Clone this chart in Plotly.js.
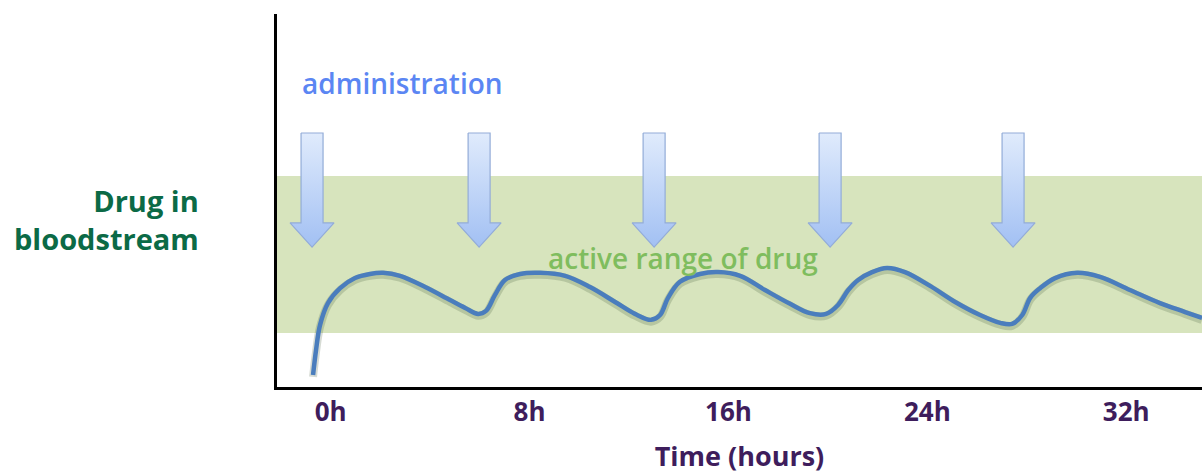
<!DOCTYPE html>
<html>
<head>
<meta charset="utf-8">
<script src="https://cdn.plot.ly/plotly-3.0.1.min.js"></script>
<style>html,body{margin:0;padding:0;background:#fff;}#chart{width:1202px;height:474px;}</style>
</head>
<body>
<div id="chart"></div>
<script>
// ---- data (hours vs. relative drug level) ----
const timeHours = [-0.71,-0.59,-0.43,-0.11,0.38,0.98,1.58,2.11,2.79,3.80,4.80,5.41,5.93,6.25,6.61,7.01,7.62,8.42,9.43,10.43,11.44,12.24,12.89,13.25,13.57,14.05,14.86,15.58,16.47,17.47,18.48,19.28,19.93,20.41,20.82,21.22,21.78,22.38,23.10,24.11,25.12,26.12,26.93,27.41,27.82,28.14,28.54,29.14,30.03,30.95,32.15,33.36,34.37,35.05];
const drugLevel = [3.2,9.9,16.6,22.5,26.5,29.2,30.3,30.6,29.8,26.8,23.3,21.2,19.6,20.4,24.7,28.7,30.3,30.6,29.8,26.8,22.8,19.6,18.0,19.3,23.9,28.2,30.3,30.8,29.8,26.0,22.3,19.8,19.6,22.0,26.0,28.7,30.8,31.9,30.8,27.1,22.8,19.3,17.2,16.9,19.3,23.9,26.5,29.2,30.6,29.5,26.0,22.5,20.1,18.5];
const doseTimes = [-0.75, 5.97, 13.01, 20.09, 27.45];
const activeRange = [14.5, 56.6];
const tickHours = [0, 8, 16, 24, 32];
const tickLabels = ['0h', '8h', '16h', '24h', '32h'];

// ---- styling / geometry constants ----
const ARROW_TOP = 68.1, ARROW_HEAD = 44.0, ARROW_TIP = 37.5;
const SHAFT_HALF = 0.4425, HEAD_HALF = 0.885;
const X_RANGE = [-2.16, 35.05];
const Y_RANGE = [0, 100];
const FONT = '"Open Sans", "Noto Sans", sans-serif';

const traces = [];
doseTimes.forEach(function (t) {
  traces.push({
    type: 'scatter', mode: 'lines', hoverinfo: 'skip', showlegend: false,
    x: [t - SHAFT_HALF, t + SHAFT_HALF, t + SHAFT_HALF, t + HEAD_HALF, t, t - HEAD_HALF, t - SHAFT_HALF, t - SHAFT_HALF],
    y: [ARROW_TOP, ARROW_TOP, ARROW_HEAD, ARROW_HEAD, ARROW_TIP, ARROW_HEAD, ARROW_HEAD, ARROW_TOP],
    fill: 'toself',
    fillgradient: {type: 'vertical', colorscale: [[0, '#a2c0f3'], [1, '#e0ebfc']]},
    line: {color: '#93acd8', width: 1.2}
  });
});
// soft shadow under the curve
traces.push({
  type: 'scatter', mode: 'lines', hoverinfo: 'skip', showlegend: false,
  x: timeHours, y: drugLevel.map(function (v) { return v - 0.5; }),
  line: {color: 'rgba(70,90,60,0.22)', width: 8, shape: 'spline', smoothing: 1}
});
traces.push({
  type: 'scatter', mode: 'lines', showlegend: false,
  x: timeHours, y: drugLevel,
  line: {color: '#4a7dbd', width: 4.5, shape: 'spline', smoothing: 1}
});

const layout = {
  width: 1202, height: 474,
  margin: {l: 277, r: 0, t: 14, b: 87},
  paper_bgcolor: '#ffffff', plot_bgcolor: 'rgba(0,0,0,0)',
  showlegend: false,
  xaxis: {
    range: X_RANGE, showgrid: false, zeroline: false,
    showline: true, linecolor: '#000', linewidth: 3,
    tickvals: tickHours, ticktext: tickLabels, ticks: '',
    tickfont: {family: FONT, size: 26, color: '#3e1d5c', weight: 700},
    title: {text: 'Time (hours)', standoff: 24, font: {family: FONT, size: 27, color: '#3e1d5c', weight: 700}}
  },
  yaxis: {
    range: Y_RANGE, showgrid: false, zeroline: false,
    showline: true, linecolor: '#000', linewidth: 3,
    showticklabels: false, ticks: ''
  },
  shapes: [{
    type: 'rect', layer: 'below', xref: 'paper', yref: 'y',
    x0: 0, x1: 1, y0: activeRange[0], y1: activeRange[1],
    fillcolor: '#d7e4bd', line: {width: 0}
  }],
  annotations: [
    {text: 'Drug in<br>bloodstream', xref: 'paper', yref: 'paper', x: (201 - 277) / 925, y: 0.45,
     xanchor: 'right', yanchor: 'middle', align: 'right', showarrow: false,
     font: {family: FONT, size: 29, color: '#0b6a46', weight: 700}},
    {text: 'administration', xref: 'paper', yref: 'paper', x: (300 - 277) / 925, y: (387 - 83) / 373,
     xanchor: 'left', yanchor: 'middle', showarrow: false,
     font: {family: FONT, size: 28, color: '#5b86f3', weight: 600}},
    {text: 'active range of drug', xref: 'paper', yref: 'paper', x: (683 - 277) / 925, y: (387 - 258) / 373,
     xanchor: 'center', yanchor: 'middle', showarrow: false,
     font: {family: FONT, size: 28, color: '#7fbd5e', weight: 600}}
  ]
};

Plotly.newPlot('chart', traces, layout, {displayModeBar: false, staticPlot: true});
</script>
</body>
</html>
